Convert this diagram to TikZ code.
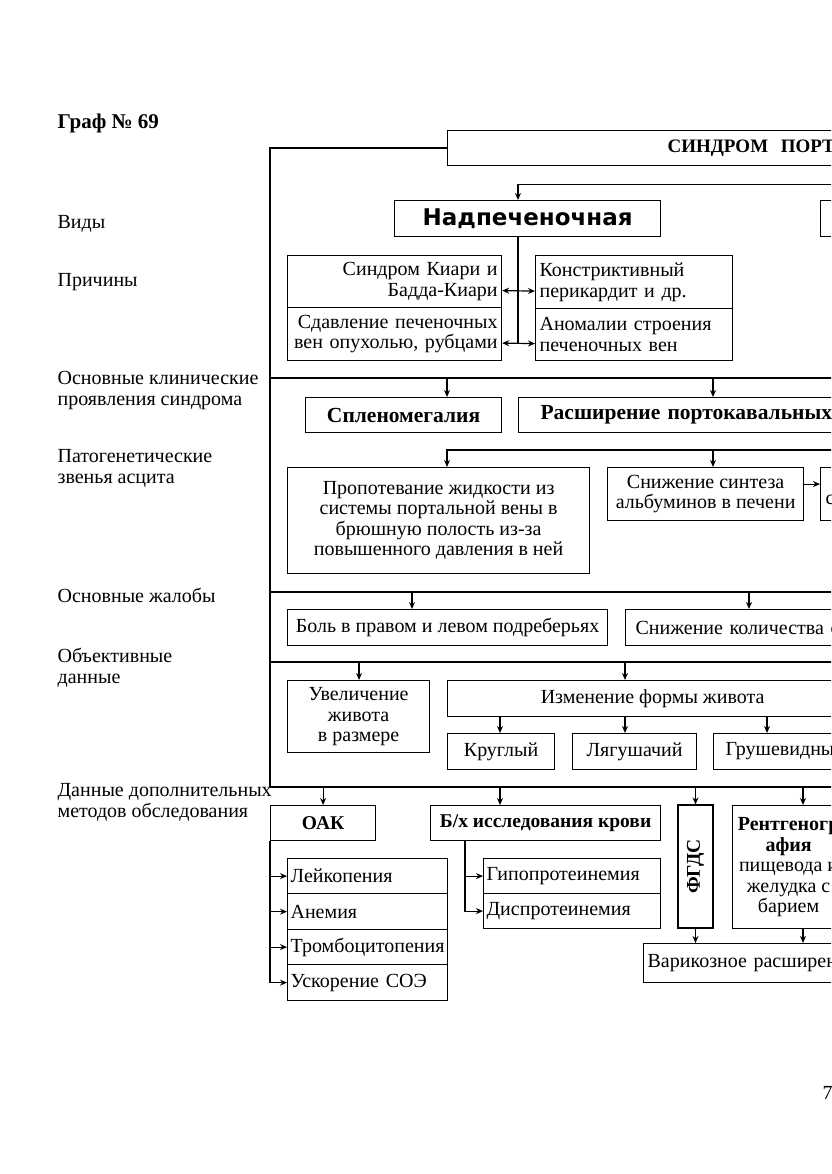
\documentclass[tikz,border=0pt]{standalone}
\usepackage{fontspec}
\setmainfont{Liberation Serif}
\newfontfamily\zagfont{DejaVu Sans}
\usetikzlibrary{positioning, arrows.meta}

\begin{document}
\begin{tikzpicture}[x=1pt, y=-1pt, line width=1.2pt, >={Stealth[length=7pt,width=6pt]},
  font=\fontsize{20}{20.5}\selectfont,
  blok/.style={draw, rectangle, inner sep=2pt, anchor=north west, align=center},
  sleva/.style={align=left, inner xsep=#1},
  podp/.style={anchor=north west, inner sep=0pt, align=left, execute at begin node=\strut},
  zhir/.style={font=\fontsize{21.5}{23}\selectfont\bfseries},
  zhirm/.style={font=\fontsize{19.5}{20.5}\selectfont\bfseries}]
  \useasboundingbox (0,0) rectangle (831,1174);
  \clip (0,0) rectangle (831,1174);

  % подписи слева
  \node[anchor=base west, inner sep=0pt, font=\fontsize{21}{22}\selectfont\bfseries] (graf) at (57,129) {Граф № 69};
  \node[podp] (vidy) at (57,214) {Виды};
  \node[podp] (prich) at (57,272) {Причины};
  \node[podp] (klin) at (57,371) {Основные клинические\\проявления синдрома};
  \node[podp] (patog) at (57,449) {Патогенетические\\звенья асцита};
  \node[podp] (zhal) at (57,588) {Основные жалобы};
  \node[podp] (obekt) at (57,648) {Объективные\\данные};
  \node[podp] (dopmet) at (57,783) {Данные дополнительных\\методов обследования};

  % заголовок и виды
  \node[blok, sleva=220pt, text width=200, minimum height=35, font=\fontsize{19}{20}\selectfont\bfseries] (sindrom) at (447,130) {СИНДРОМ~~ПОРТ};
  \node[blok, minimum width=266, minimum height=36, font=\zagfont\fontsize{23}{25}\selectfont\bfseries] (nadp) at (394,200) {Надпеченочная};
  \node[blok, minimum width=150, minimum height=36] (vnutr) at (820,200) {};

  % причины
  \node[blok, align=right, inner xsep=4pt, text width=206, minimum height=52] (kiari) at (287,255) {Синдром Киари и\\Бадда-Киари};
  \node[blok, align=right, inner xsep=4pt, text width=206, minimum height=53] (sdavl) at (287,307) {Сдавление печеночных\\вен опухолью, рубцами};
  \node[blok, sleva=4pt, text width=189, minimum height=53] (konstr) at (535,255) {Констриктивный\\перикардит и др.};
  \node[blok, sleva=4pt, text width=189, minimum height=52] (anom) at (535,308) {Аномалии строения\\печеночных вен};

  % клинические проявления
  \node[blok, zhir, minimum width=196, minimum height=35] (spleno) at (305,397) {Спленомегалия};
  \node[blok, zhir, sleva=22pt, text width=456, minimum height=35] (rasshir) at (518,397) {Расширение портокавальных};

  % звенья асцита
  \node[blok, minimum width=302, minimum height=106] (propot) at (287,467) {Пропотевание жидкости из\\системы портальной вены в\\брюшную полость из-за\\повышенного давления в ней};
  \node[blok, minimum width=196, minimum height=53] (sintez) at (607,467) {Снижение синтеза\\альбуминов в печени};
  \node[blok, sleva=5pt, text width=140, minimum height=53] (onkot) at (820,467) {\mbox{}\\с};

  % жалобы
  \node[blok, minimum width=320, minimum height=36] (bol) at (287,609) {Боль в правом и левом подреберьях};
  \node[blok, sleva=10pt, text width=380, minimum height=36] (kolich) at (625,609) {Снижение количества с};

  % объективные данные
  \node[blok, minimum width=142, minimum height=72] (uvel) at (287,680) {Увеличение\\живота\\в размере};
  \node[blok, minimum width=410, minimum height=36] (izmen) at (447,680) {Изменение формы живота};
  \node[blok, minimum width=107, minimum height=36] (krug) at (447,733) {Круглый};
  \node[blok, minimum width=124, minimum height=36] (lyag) at (572,733) {Лягушачий};
  \node[blok, sleva=12pt, text width=176, minimum height=36] (grush) at (713,733) {Грушевидны};

  % дополнительные методы
  \node[blok, zhirm, minimum width=105, minimum height=35] (oak) at (270,805) {ОАК};
  \node[blok, zhirm, minimum width=230, minimum height=35] (bkh) at (430,805) {Б/х исследования крови};
  \node[draw, rectangle, zhirm, rotate=90, minimum width=123, minimum height=35] (fgds) at (695.5,866.5) {ФГДС};
  \node[blok, minimum width=112, minimum height=123] (rentg) at (732,805) {\textbf{Рентгеногр}\\\textbf{афия}\\пищевода и\\желудка с\\барием};
  \node[blok, sleva=3pt, text width=154, minimum height=35] (leik) at (287,858) {Лейкопения};
  \node[blok, sleva=3pt, text width=154, minimum height=36] (anem) at (287,893) {Анемия};
  \node[blok, sleva=3pt, text width=154, minimum height=35] (tromb) at (287,929) {Тромбоцитопения};
  \node[blok, sleva=3pt, text width=154, minimum height=36] (uskor) at (287,964) {Ускорение СОЭ};
  \node[blok, sleva=3pt, text width=171, minimum height=35] (gipo) at (483,858) {Гипопротеинемия};
  \node[blok, sleva=3pt, text width=171, minimum height=35] (disp) at (483,893) {Диспротеинемия};
  \node[blok, sleva=4pt, text width=392, minimum height=39] (varik) at (643,943) {Варикозное расширен};

  \node[anchor=base west, inner sep=0pt] (str) at (822,1099) {7};

  % рамка и разделители
  \coordinate (r1) at (270,378);
  \coordinate (r2) at (447,450);
  \coordinate (r3) at (270,592);
  \coordinate (r4) at (270,662);
  \coordinate (r5) at (270,787);
  \draw (sindrom.west) -| (r5) -- (r5 -| 900,0);
  \foreach \r in {r1,r3,r4}
    \draw (\r) -- (\r -| 900,0);
  \draw[->] (r2 -| 900,0) -| (propot.north -| r2);

  % стрелки
  \draw[->] (sindrom.south -| 950,0) -- ++(0,18) -| (nadp.north -| 518,0);
  \coordinate (stvol) at (518,343);
  \draw (nadp.south -| stvol) -- (stvol);
  \draw[<->] ([yshift=-9]kiari.east) -- ([yshift=-9]konstr.west);
  \draw[<->] ([yshift=-9]sdavl.east) -- ([yshift=-9]anom.west);

  \draw[->] (r1 -| 447,0) -- (spleno.north -| 447,0);
  \draw[->] (r1 -| 713,0) -- (rasshir.north -| 713,0);
  \draw[->] (r2 -| 713,0) -- (sintez.north -| 713,0);
  \draw[->] ([yshift=10]sintez.east) -- ([yshift=10]onkot.west);

  \draw[->] (r3 -| 412,0) -- (bol.north -| 412,0);
  \draw[->] (r3 -| 749,0) -- (kolich.north -| 749,0);

  \draw[->] (r4 -| 359,0) -- (uvel.north -| 359,0);
  \draw[->] (r4 -| 625,0) -- (izmen.north -| 625,0);
  \draw[->] (izmen.south -| 500,0) -- (krug.north -| 500,0);
  \draw[->] (izmen.south -| 625,0) -- (lyag.north -| 625,0);
  \draw[->] (izmen.south -| 767,0) -- (grush.north -| 767,0);

  \draw[->] (r5 -| oak.north) -- (oak.north);
  \draw[->] (r5 -| 500,0) -- (bkh.north -| 500,0);
  \draw[->] (r5 -| fgds.east) -- (fgds.east);
  \draw[->] (r5 -| 803,0) -- (rentg.north -| 803,0);

  \draw[->] (oak.south west) |- (uskor.west);
  \foreach \n in {leik,anem,tromb}
    \draw[->] (oak.south west |- \n.west) -- (\n.west);
  \draw[->] (bkh.south -| 465,0) |- (disp.west);
  \draw[->] (gipo.west -| 465,0) -- (gipo.west);

  \draw[->] (fgds.west) -- (fgds.west |- varik.north);
  \draw[->] (rentg.south -| 803,0) -- (varik.north -| 803,0);
\end{tikzpicture}
\end{document}
